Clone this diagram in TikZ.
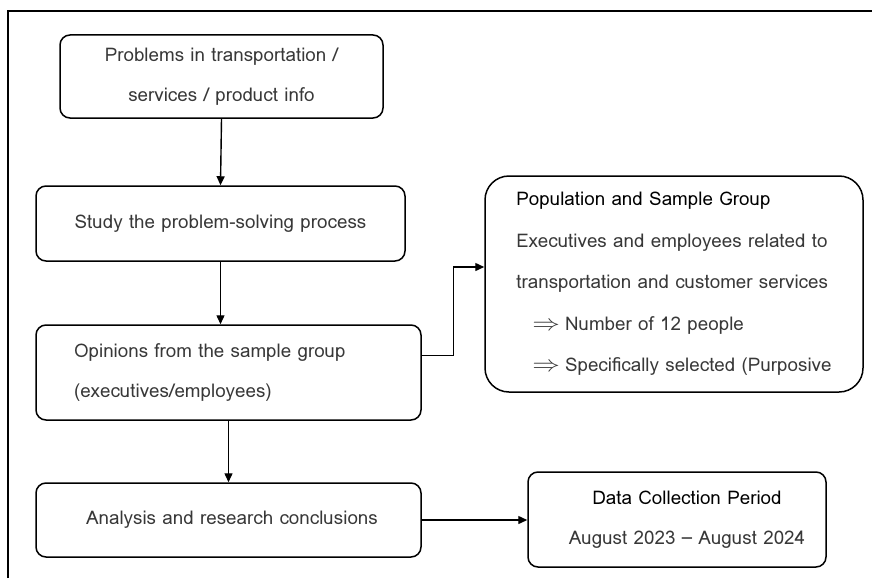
\documentclass[tikz,border=0pt]{standalone}
\usepackage{fontspec}
\setmainfont{Loma}
\usetikzlibrary{positioning}
\usetikzlibrary{arrows.meta}

\tikzset{
  stepbox/.style={draw, line width=1.5pt, rounded corners=10pt, text=black!78,
    font=\fontsize{18.8}{40}\selectfont, inner sep=0pt},
  arr/.style={line width=1.4pt, -{Triangle[length=9pt,width=8pt]}}
}
\newcommand{\impl}{\hspace*{16pt}\scalebox{1.6}[1.3]{$\Rightarrow$}\hspace{5pt}}

\begin{document}
\begin{tikzpicture}[x=1pt,y=-1pt]
\useasboundingbox (0,0) rectangle (872,578);

% outer frame
\draw[line width=1.6pt] (8,578) -- (8,11) -- (872,11);

\node[stepbox, minimum width=323pt, minimum height=83pt, align=center] (prob) at (221.5,76.5) {Problems in transportation /\\ services / product info};
\node[stepbox, minimum width=369pt, minimum height=75pt] (study) at (220.5,223.5) {Study the problem-solving process};
\node[stepbox, minimum height=95pt, text width=309pt, inner xsep=38pt, align=left] (ops) at (228.5,372.5) {Opinions from the sample group\\ (executives/employees)};
\node[stepbox, minimum width=385pt, minimum height=74pt] (anl) at (228.5,520) {\hspace*{7pt}Analysis and research conclusions};

\node[stepbox, rounded corners=24pt, minimum width=378pt, minimum height=216pt, align=left, font=\fontsize{18.8}{41.5}\selectfont] (pop) at (674,284)
  {\textcolor{black}{Population and Sample Group}\\
   Executives and employees related to\\
   transportation and customer services\\
   \impl Number of 12 people\\
   \impl Specifically selected (Purposive};
\node[stepbox, minimum width=298pt, minimum height=95pt, align=center] (period) at (677,519.5)
  {\hspace*{20pt}\textcolor{black}{Data Collection Period}\\ \hspace*{20pt}August 2023 -- August 2024};

\draw[arr] (prob.south) -- (study.north);
\draw[arr] (study.south) -- (study.south |- ops.north);
\draw[arr] (ops.south) -- (anl.north);
\draw[arr] ([yshift=17pt]ops.east) -- ++(32,0) |- ([yshift=17pt]pop.west);
\draw[arr] (anl.east) -- (anl.east -| period.west);
\end{tikzpicture}
\end{document}
